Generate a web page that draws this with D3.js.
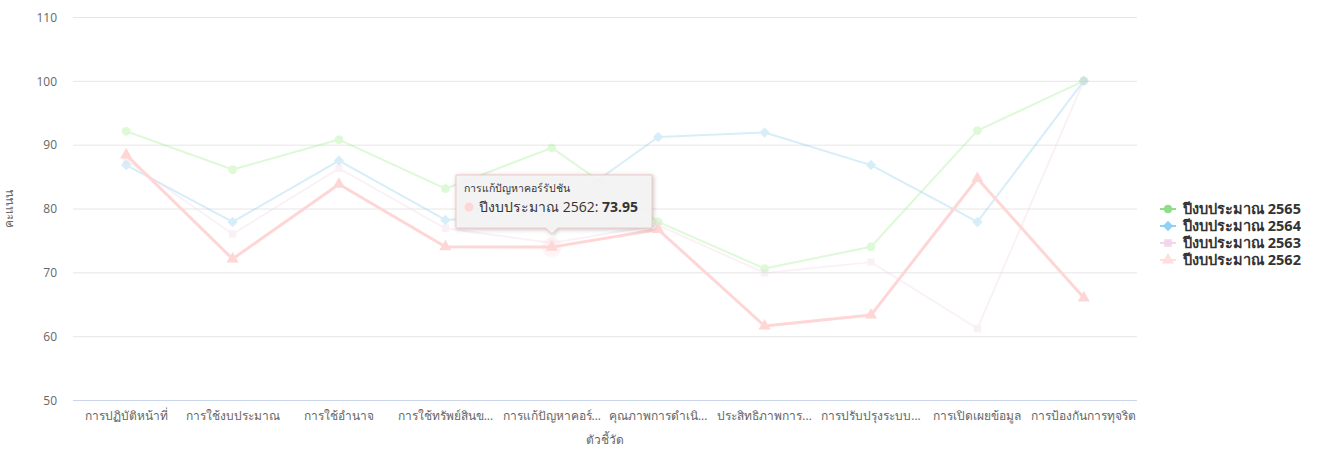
<!DOCTYPE html>
<html>
<head>
<meta charset="utf-8">
<script src="https://cdn.jsdelivr.net/npm/d3@7"></script>
<style>
  body { margin: 0; background: #fff; font-family: "Open Sans", "Noto Sans", "DejaVu Sans", sans-serif; }
  svg text { font-family: "Open Sans", "Noto Sans", "DejaVu Sans", sans-serif; }
</style>
</head>
<body>
<svg id="chart" width="1323" height="451"></svg>
<script>
// ---------- Data ----------
const categories = [
  "การปฏิบัติหน้าที่", "การใช้งบประมาณ", "การใช้อำนาจ", "การใช้ทรัพย์สินของราชการ",
  "การแก้ปัญหาคอร์รัปชัน", "คุณภาพการดำเนินงาน", "ประสิทธิภาพการสื่อสาร",
  "การปรับปรุงระบบการทำงาน", "การเปิดเผยข้อมูล", "การป้องกันการทุจริต"
];
const tickLabels = [
  "การปฏิบัติหน้าที่", "การใช้งบประมาณ", "การใช้อำนาจ", "การใช้ทรัพย์สินข...",
  "การแก้ปัญหาคอร์...", "คุณภาพการดำเนิ...", "ประสิทธิภาพการ...",
  "การปรับปรุงระบบ...", "การเปิดเผยข้อมูล", "การป้องกันการทุจริต"
];
const yTicks = [50, 60, 70, 80, 90, 100, 110];

const seriesNames = ["ปีงบประมาณ 2565", "ปีงบประมาณ 2564", "ปีงบประมาณ 2563", "ปีงบประมาณ 2562"];
const values2565 = [92.1, 86.1, 90.8, 83.1, 89.5, 77.9, 70.6, 74.0, 92.2, 100];
const values2564 = [86.8, 77.9, 87.5, 78.2, 79.3, 91.2, 91.9, 86.8, 77.9, 100];
const values2563 = [87.6, 76.0, 86.3, 76.9, 74.6, 77.4, 69.9, 71.6, 61.2, 100];
const values2562 = [88.4, 72.1, 83.8, 74.0, 73.95, 76.7, 61.6, 63.3, 84.7, 66.0];

// hovered point in the picture
const hoverSeries = 3, hoverIndex = 4;

// ---------- Styles ----------
const legendColors = ["#8fdc8a", "#8fd0f3", "#f3d6ea", "#ffdede"];
const lineColors   = ["#90ed7d", "#7cc8ee", "#f0d3e8", "#ffd6d6"];
const symbols      = [d3.symbolCircle, d3.symbolDiamond2, d3.symbolSquare, d3.symbolTriangle];
const symSize      = [60, 70, 56, 64];

const series = seriesNames.map((name, i) => ({
  name,
  values: [values2565, values2564, values2563, values2562][i]
}));

const W = 1323, H = 451;
const margin = { top: 17, right: 186, bottom: 51, left: 73 };

const svg = d3.select("#chart");

const x = d3.scaleBand()
  .domain(d3.range(categories.length))
  .range([margin.left, W - margin.right]);
const y = d3.scaleLinear()
  .domain([50, 110])
  .range([H - margin.bottom, margin.top]);

// gridlines
svg.append("g")
  .selectAll("line")
  .data(yTicks.slice(1))
  .join("line")
    .attr("x1", margin.left).attr("x2", W - margin.right)
    .attr("y1", d => y(d) + 0.5).attr("y2", d => y(d) + 0.5)
    .attr("stroke", "#e6e6e6");

// y axis labels
const yAxis = svg.append("g")
  .attr("transform", `translate(${margin.left - 16},0)`)
  .call(d3.axisLeft(y).tickValues(yTicks).tickSize(0).tickPadding(0));
yAxis.select(".domain").remove();
yAxis.selectAll("text")
  .attr("fill", "#666").style("font-size", "12px").attr("dy", "0.35em");

// x axis
const xAxis = svg.append("g")
  .attr("transform", `translate(0,${y(50)})`)
  .call(d3.axisBottom(x).tickFormat(i => tickLabels[i]).tickSize(0).tickPadding(11));
xAxis.select(".domain").attr("stroke", "#ccd6eb").attr("d", `M${margin.left},0.5H${W - margin.right}`);
xAxis.selectAll("text").attr("fill", "#666").style("font-size", "12px");

// axis titles
svg.append("text")
  .attr("transform", `translate(13,${(y(50) + y(110)) / 2}) rotate(-90)`)
  .attr("text-anchor", "middle")
  .attr("fill", "#666").style("font-size", "12px")
  .text("คะแนน");
svg.append("text")
  .attr("x", (margin.left + W - margin.right) / 2)
  .attr("y", 444)
  .attr("text-anchor", "middle")
  .attr("fill", "#666").style("font-size", "12px")
  .text("ตัวชี้วัด");

const cx = i => x(i) + x.bandwidth() / 2;
const line = d3.line().x((d, i) => cx(i)).y(d => y(d));

// series lines + markers
series.forEach((s, k) => {
  const active = k === hoverSeries;
  const g = svg.append("g").attr("opacity", active ? 1 : 0.3);
  g.append("path")
    .datum(s.values)
    .attr("d", line)
    .attr("fill", "none")
    .attr("stroke", lineColors[k])
    .attr("stroke-width", active ? 3 : 2)
    .attr("stroke-linejoin", "round");
  g.selectAll("path.pt")
    .data(s.values)
    .join("path")
      .attr("class", "pt")
      .attr("transform", (d, i) => `translate(${cx(i)},${y(d)})`)
      .attr("d", d3.symbol().type(symbols[k]).size(symSize[k]))
      .attr("fill", lineColors[k]);
});

// hover halo
const hv = series[hoverSeries].values[hoverIndex];
svg.append("circle")
  .attr("cx", cx(hoverIndex)).attr("cy", y(hv))
  .attr("r", 10).attr("fill", lineColors[hoverSeries]).attr("opacity", 0.25);

// legend
const legend = svg.append("g").attr("transform", "translate(1160,209)");
series.forEach((s, k) => {
  const gi = legend.append("g").attr("transform", `translate(0,${k * 17})`);
  gi.append("line").attr("x1", 0).attr("x2", 16).attr("stroke", legendColors[k]).attr("stroke-width", 2);
  gi.append("path")
    .attr("transform", "translate(8,0)")
    .attr("d", d3.symbol().type(symbols[k]).size(symSize[k]))
    .attr("fill", legendColors[k]);
  gi.append("text")
    .attr("x", 23).attr("dy", "0.35em")
    .attr("fill", "#333").style("font-size", "14.5px").style("font-weight", "bold")
    .text(s.name);
});

// tooltip
const tx = cx(hoverIndex);
const tip = svg.append("g");
const bx = 456, by = 175, bw = 196, bh = 53;
tip.append("path")
  .attr("d", `M${bx},${by}h${bw}v${bh}H${tx + 6}l-6,6l-6,-6H${bx}Z`)
  .attr("fill", "rgba(247,247,247,0.9)")
  .attr("stroke", "#f4c7c7").attr("stroke-width", 1)
  .style("filter", "drop-shadow(1px 1px 2px rgba(0,0,0,0.25))");
tip.append("text")
  .attr("x", bx + 8).attr("y", by + 17)
  .attr("fill", "#333").style("font-size", "10.5px")
  .text(categories[hoverIndex]);
tip.append("circle")
  .attr("cx", bx + 13).attr("cy", by + 32).attr("r", 4.5)
  .attr("fill", lineColors[hoverSeries]);
const t2 = tip.append("text")
  .attr("x", bx + 23).attr("y", by + 37)
  .attr("fill", "#333").style("font-size", "14px");
t2.append("tspan").text(series[hoverSeries].name + ": ");
t2.append("tspan").style("font-weight", "bold").text(hv.toFixed(2));
</script>
</body>
</html>
